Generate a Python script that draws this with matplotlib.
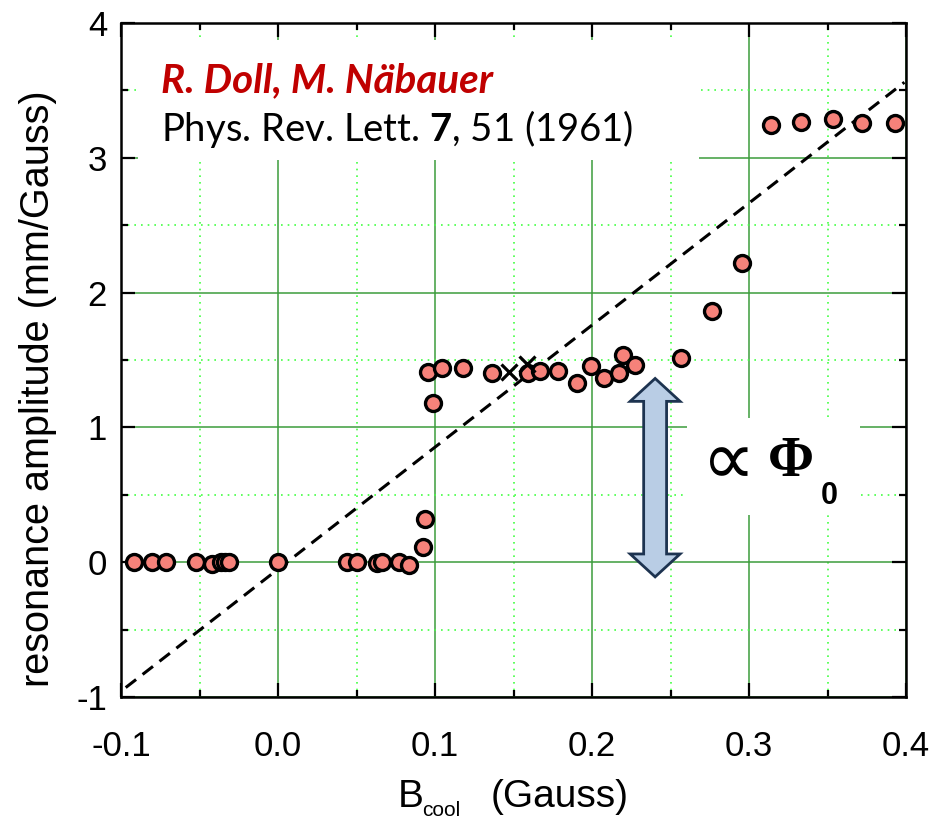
import matplotlib
matplotlib.use('Agg')
import matplotlib.pyplot as plt
from matplotlib.patches import Rectangle, Polygon

plt.rcParams['mathtext.fontset'] = 'custom'
plt.rcParams['mathtext.rm'] = 'Lato'
plt.rcParams['mathtext.bf'] = 'Lato:bold'
plt.rcParams['axes.unicode_minus'] = False
plt.rcParams['font.family'] = 'Liberation Sans'

# measured points (B_cool in Gauss, amplitude in mm/Gauss)
b_cool = [-0.092, -0.0805, -0.0713, -0.0522, -0.0422, -0.036, -0.0338, -0.031, 0.0,
          0.0437, 0.050, 0.0629, 0.066, 0.0773, 0.0834, 0.0922, 0.0936,
          0.0957, 0.0989, 0.1043, 0.118, 0.1361, 0.1594, 0.1669, 0.1785, 0.1906,
          0.1992, 0.2076, 0.2174, 0.2196, 0.2274, 0.2565, 0.2762, 0.2953,
          0.3138, 0.3331, 0.3537, 0.3718, 0.393]
amplitude = [0.0, 0.0, 0.0, 0.0, -0.01, 0.0, 0.0, 0.0, 0.0,
             0.0, 0.0, -0.005, 0.0, 0.0, -0.02, 0.11, 0.32,
             1.41, 1.18, 1.437, 1.444, 1.407, 1.40, 1.42, 1.417, 1.33,
             1.454, 1.363, 1.404, 1.536, 1.461, 1.518, 1.864, 2.216,
             3.242, 3.266, 3.286, 3.259, 3.259]

# two points drawn as crosses
b_cross = [0.1471, 0.1586]
amp_cross = [1.41, 1.469]

# dashed guide line
fit_x = [-0.097, 0.399]
fit_y = [-0.93, 3.56]

# double arrow (flux quantum step)
arrow_x = 0.2402
arrow_top = 1.363
arrow_bot = -0.109

fig = plt.figure(figsize=(9.38, 8.23), dpi=100)
ax = fig.add_axes([0.129, 0.1531, 0.8369, 0.819])

ax.set_xlim(-0.1, 0.4)
ax.set_ylim(-1, 4)
ax.set_xticks([-0.1, 0.0, 0.1, 0.2, 0.3, 0.4])
ax.set_xticks([-0.05, 0.05, 0.15, 0.25, 0.35], minor=True)
ax.set_yticks([-1, 0, 1, 2, 3, 4])
ax.set_yticks([-0.5, 0.5, 1.5, 2.5, 3.5], minor=True)
ax.set_xticklabels(['-0.1', '0.0', '0.1', '0.2', '0.3', '0.4'])

ax.set_axisbelow(True)
ax.grid(which='major', color='#3c9c3c', lw=1.1, ls='-')
ax.grid(which='minor', color='#44ff44', lw=1.2, ls=(0, (1, 3)))

for s in ax.spines.values():
    s.set_linewidth(1.8)
ax.tick_params(which='both', direction='in', top=True, right=True, width=1.6,
               labelsize=25)
ax.tick_params(which='major', length=10)
ax.tick_params(which='minor', length=5)
ax.tick_params(axis='x', pad=24)
ax.tick_params(axis='y', pad=10)

# white patches behind the texts
ax.add_patch(Rectangle((-0.0892, 2.98), 0.3574, 0.89, fc='white', ec='none', zorder=1))
ax.add_patch(Rectangle((0.2605, 0.349), 0.1102, 0.719, fc='white', ec='none', zorder=1))

ax.plot(fit_x, fit_y, color='black', lw=2.2, dashes=(4.3, 2.7), zorder=2)
ax.plot(b_cool, amplitude, 'o', ms=11.5, mfc='#f6827a', mec='black', mew=2.4, zorder=3)
ax.plot(b_cross, amp_cross, 'x', ms=11, color='black', mew=2.3, zorder=3)

sw, hw, hl = 0.0073, 0.0159, 0.17
pts = [(arrow_x, arrow_top), (arrow_x + hw, arrow_top - hl), (arrow_x + sw, arrow_top - hl),
       (arrow_x + sw, arrow_bot + hl), (arrow_x + hw, arrow_bot + hl), (arrow_x, arrow_bot),
       (arrow_x - hw, arrow_bot + hl), (arrow_x - sw, arrow_bot + hl),
       (arrow_x - sw, arrow_top - hl), (arrow_x - hw, arrow_top - hl)]
ax.add_patch(Polygon(pts, closed=True, fc='#b9cde5', ec='#1d3350', lw=2, zorder=4))

ax.text(0.2873, 0.73, '\u221d', fontsize=54, family='DejaVu Sans', ha='center', va='center', zorder=5)
ax.text(0.3268, 0.742, '\u03a6', fontsize=40, family='Liberation Serif', fontweight='bold',
        ha='center', va='center', zorder=5)
ax.text(0.351, 0.49, '0', fontsize=22, family='Liberation Sans', fontweight='bold',
        ha='center', va='center', zorder=5)

ax.text(-0.0745, 3.57, 'R. Doll, M. N\u00e4bauer', fontsize=29, family='Lato',
        fontweight='bold', style='italic', color='#c00000', va='center', zorder=5)
ax.text(-0.0745, 3.21, 'Phys. Rev. Lett. $\\mathbf{7}$, 51 (1961)', fontsize=27.5,
        family='Lato', color='black', va='center', zorder=5)

ax.set_ylabel('resonance amplitude (mm/Gauss)', fontsize=28.5)
ax.yaxis.set_label_coords(-0.082, 0.457)
fig.text(0.4243, 0.02, 'B', fontsize=28, ha='left', va='baseline')
fig.text(0.450, 0.009, 'cool', fontsize=15, ha='left', va='baseline')
fig.text(0.5235, 0.02, '(Gauss)', fontsize=28, ha='left', va='baseline')

fig.savefig('out.png', dpi=100)
